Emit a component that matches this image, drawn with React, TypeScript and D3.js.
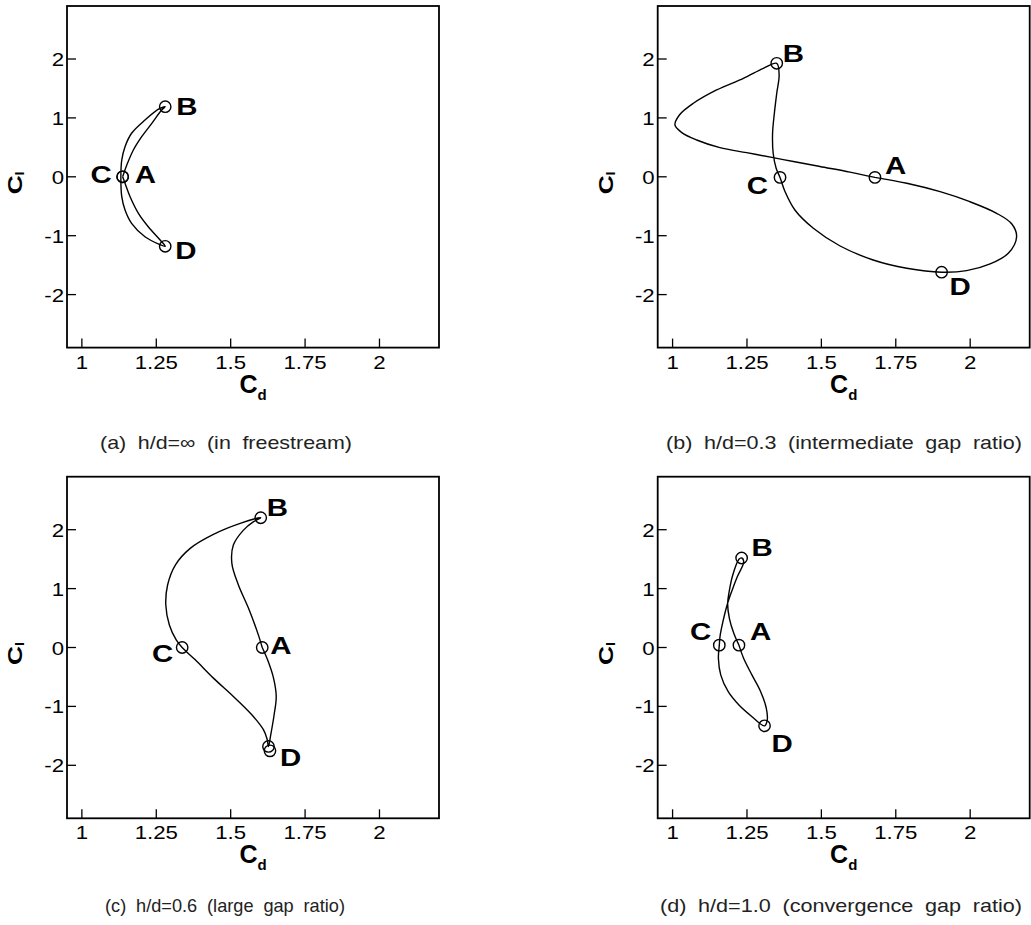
import React from "react";
import * as d3 from "d3";

// axis ticks shared by all four panels
const xTicks = [1, 1.25, 1.5, 1.75, 2];
const xTickLabels = ["1", "1.25", "1.5", "1.75", "2"];
const yTicks = [-2, -1, 0, 1, 2];
const yTickLabels = ["-2", "-1", "0", "1", "2"];

// Cd-Cl loops traced over one shedding cycle, [Cd, Cl]
const loopA: [number, number][] = [
  [1.137, 0.0], [1.151, 0.2], [1.173, 0.455], [1.201, 0.681], [1.235, 0.908], [1.268, 1.134],
  [1.28, 1.19],
  [1.262, 1.16], [1.212, 0.964], [1.167, 0.739], [1.145, 0.511], [1.134, 0.285], [1.131, 0.0],
  [1.134, -0.338], [1.145, -0.564], [1.167, -0.79], [1.212, -1.017], [1.262, -1.15],
  [1.28, -1.18],
  [1.263, -1.073], [1.223, -0.847], [1.19, -0.62], [1.162, -0.338], [1.145, -0.11], [1.137, 0.0],
];

const loopB: [number, number][] = [
  [1.68, -0.01], [1.596, 0.08], [1.495, 0.175], [1.406, 0.26], [1.338, 0.325], [1.249, 0.41],
  [1.159, 0.495], [1.081, 0.625], [1.031, 0.75], [1.008, 0.88], [1.023, 1.05], [1.07, 1.248],
  [1.148, 1.474], [1.238, 1.672], [1.305, 1.842],
  [1.35, 1.927],
  [1.358, 1.729], [1.35, 1.418], [1.342, 1.078], [1.336, 0.739], [1.338, 0.4], [1.348, 0.144],
  [1.361, -0.01],
  [1.378, -0.253], [1.411, -0.564], [1.473, -0.874], [1.563, -1.175], [1.674, -1.412], [1.787, -1.553],
  [1.904, -1.62],
  [1.988, -1.594], [2.067, -1.48], [2.128, -1.299], [2.156, -1.017], [2.14, -0.801], [2.089, -0.62],
  [1.999, -0.423], [1.899, -0.253], [1.787, -0.11],
  [1.68, -0.01],
];

const loopC: [number, number][] = [
  [1.606, 0.0], [1.593, 0.214], [1.56, 0.666], [1.526, 1.061], [1.504, 1.429], [1.509, 1.739],
  [1.543, 1.993], [1.577, 2.136],
  [1.601, 2.203],
  [1.532, 2.107], [1.442, 1.92], [1.364, 1.683], [1.314, 1.4], [1.288, 1.061], [1.282, 0.722],
  [1.294, 0.383], [1.317, 0.129],
  [1.337, 0.0],
  [1.381, -0.21], [1.442, -0.52], [1.509, -0.831], [1.571, -1.142], [1.61, -1.396], [1.622, -1.55],
  [1.627, -1.68],
  [1.634, -1.5], [1.646, -1.142], [1.653, -0.831], [1.644, -0.52], [1.624, -0.21],
  [1.606, 0.0],
];

const loopD: [number, number][] = [
  [1.223, 0.04], [1.206, 0.237], [1.191, 0.492], [1.185, 0.746], [1.19, 0.944], [1.202, 1.226],
  [1.223, 1.497],
  [1.232, 1.52],
  [1.239, 1.452], [1.217, 1.198], [1.198, 0.944], [1.183, 0.717], [1.169, 0.435], [1.16, 0.209],
  [1.157, 0.04],
  [1.154, -0.186], [1.162, -0.469], [1.187, -0.751], [1.223, -0.977], [1.267, -1.175],
  [1.309, -1.33],
  [1.318, -1.232], [1.315, -1.034], [1.296, -0.751], [1.267, -0.469], [1.239, -0.186],
  [1.223, 0.04],
];

// marked phases A-D (and an extra unlabeled point in c)
const phasesA = [
  { name: "A", cd: 1.137, cl: 0 },
  { name: "B", cd: 1.28, cl: 1.19 },
  { name: "C", cd: 1.137, cl: 0 },
  { name: "D", cd: 1.28, cl: -1.18 },
];
const phasesB = [
  { name: "A", cd: 1.68, cl: -0.01 },
  { name: "B", cd: 1.35, cl: 1.927 },
  { name: "C", cd: 1.361, cl: -0.01 },
  { name: "D", cd: 1.904, cl: -1.62 },
];
const phasesC = [
  { name: "A", cd: 1.606, cl: 0 },
  { name: "B", cd: 1.601, cl: 2.203 },
  { name: "C", cd: 1.337, cl: 0 },
  { name: "D", cd: 1.632, cl: -1.755 },
  { name: "", cd: 1.627, cl: -1.68 },
];
const phasesD = [
  { name: "A", cd: 1.223, cl: 0.04 },
  { name: "B", cd: 1.232, cl: 1.52 },
  { name: "C", cd: 1.157, cl: 0.04 },
  { name: "D", cd: 1.309, cl: -1.33 },
];

const captions = [
  "(a) h/d=\u221e (in freestream)",
  "(b) h/d=0.3 (intermediate gap ratio)",
  "(c) h/d=0.6 (large gap ratio)",
  "(d) h/d=1.0 (convergence gap ratio)",
];

// label placement relative to the marker: [dx, dy, anchor]
type LabelPos = Record<string, [number, number, string]>;

const panels = [
  {
    left: 67, top: 6, loop: loopA, phases: phasesA, caption: captions[0], capX: 100, capW: 252, capY: 449,
    labels: { A: [12, 6, "start"], B: [11, 8, "start"], C: [-11, 6, "end"], D: [10, 13, "start"] } as LabelPos,
  },
  {
    left: 657.7, top: 6, loop: loopB, phases: phasesB, caption: captions[1], capX: 666, capW: 356, capY: 449,
    labels: { A: [10, -3, "start"], B: [6, -1, "start"], C: [-12, 17, "end"], D: [8, 23, "start"] } as LabelPos,
  },
  {
    left: 67, top: 476.7, loop: loopC, phases: phasesC, caption: captions[2], capX: 105, capW: 240, capY: 912,
    labels: { A: [8, 6, "start"], B: [6, -2, "start"], C: [-9, 14, "end"], D: [10, 15, "start"] } as LabelPos,
  },
  {
    left: 657.7, top: 476.7, loop: loopD, phases: phasesD, caption: captions[3], capX: 660, capW: 362, capY: 912,
    labels: { A: [11, -5, "start"], B: [10, -2, "start"], C: [-8, -5, "end"], D: [7, 26, "start"] } as LabelPos,
  },
];

const W = 372;
const H = 341.6;
const FONT = "'Liberation Sans', Arial, Helvetica, sans-serif";

function Wide({ x, y, sx = 1.2, anchor = "start", size, weight = "normal", children }: any) {
  return (
    <g transform={`translate(${x},${y}) scale(${sx},1)`}>
      <text textAnchor={anchor} fontSize={size} fontWeight={weight} fontFamily={FONT} fill="#000">
        {children}
      </text>
    </g>
  );
}

function Panel({ p }: { p: (typeof panels)[number] }) {
  const x = d3.scaleLinear().domain([0.95, 2.2]).range([0, W]);
  const y = d3.scaleLinear().domain([-2.9, 2.9]).range([H, 0]);
  const line = d3
    .line<[number, number]>()
    .x((d) => x(d[0]))
    .y((d) => y(d[1]))
    .curve(d3.curveCatmullRom.alpha(0.5));

  return (
    <g transform={`translate(${p.left},${p.top})`}>
      <path d={line(p.loop) ?? ""} fill="none" stroke="#000" strokeWidth={1.4} />
      {p.phases.map((m, i) => (
        <circle key={i} cx={x(m.cd)} cy={y(m.cl)} r={5.7} fill="none" stroke="#000" strokeWidth={1.4} />
      ))}
      {p.phases
        .filter((m) => m.name)
        .map((m) => {
          const [dx, dy, anchor] = p.labels[m.name];
          return (
            <Wide key={m.name} x={x(m.cd) + dx} y={y(m.cl) + dy} sx={1.28} anchor={anchor} size={23} weight="bold">
              {m.name}
            </Wide>
          );
        })}

      {xTicks.map((t, i) => (
        <g key={t}>
          <line x1={x(t)} x2={x(t)} y1={H} y2={H - 9} stroke="#000" strokeWidth={1.3} />
          <Wide x={x(t)} y={H + 21} sx={1.17} anchor="middle" size={19}>
            {xTickLabels[i]}
          </Wide>
        </g>
      ))}
      {yTicks.map((t, i) => (
        <g key={t}>
          <line x1={0} x2={9} y1={y(t)} y2={y(t)} stroke="#000" strokeWidth={1.3} />
          <Wide x={-3} y={y(t) + 7} sx={1.17} anchor="end" size={19}>
            {yTickLabels[i]}
          </Wide>
        </g>
      ))}
      <rect x={0} y={0} width={W} height={H} fill="none" stroke="#000" strokeWidth={1.8} />

      <text x={W / 2} y={H + 45} textAnchor="middle" fontFamily={FONT} fontWeight="bold" fontSize={25}>
        C<tspan fontSize={15} dy={7}>d</tspan>
      </text>
      <g transform={`translate(${-45},${H / 2 + 6}) rotate(-90) scale(1.25,1)`}>
        <text textAnchor="middle" fontFamily={FONT} fontWeight="bold" fontSize={21}>
          C<tspan fontSize={12} dy={2}>l</tspan>
        </text>
      </g>
    </g>
  );
}

export default function App() {
  return (
    <svg width={1031} height={925} style={{ position: "absolute", left: 0, top: 0, background: "#fff" }}>
      {panels.map((p, i) => (
        <g key={i}>
          <Panel p={p} />
          <text
            x={p.capX}
            y={p.capY}
            textLength={p.capW}
            lengthAdjust="spacingAndGlyphs"
            fontFamily={FONT}
            fontSize={19}
            wordSpacing={5}
            fill="#222"
          >
            {p.caption}
          </text>
        </g>
      ))}
    </svg>
  );
}
